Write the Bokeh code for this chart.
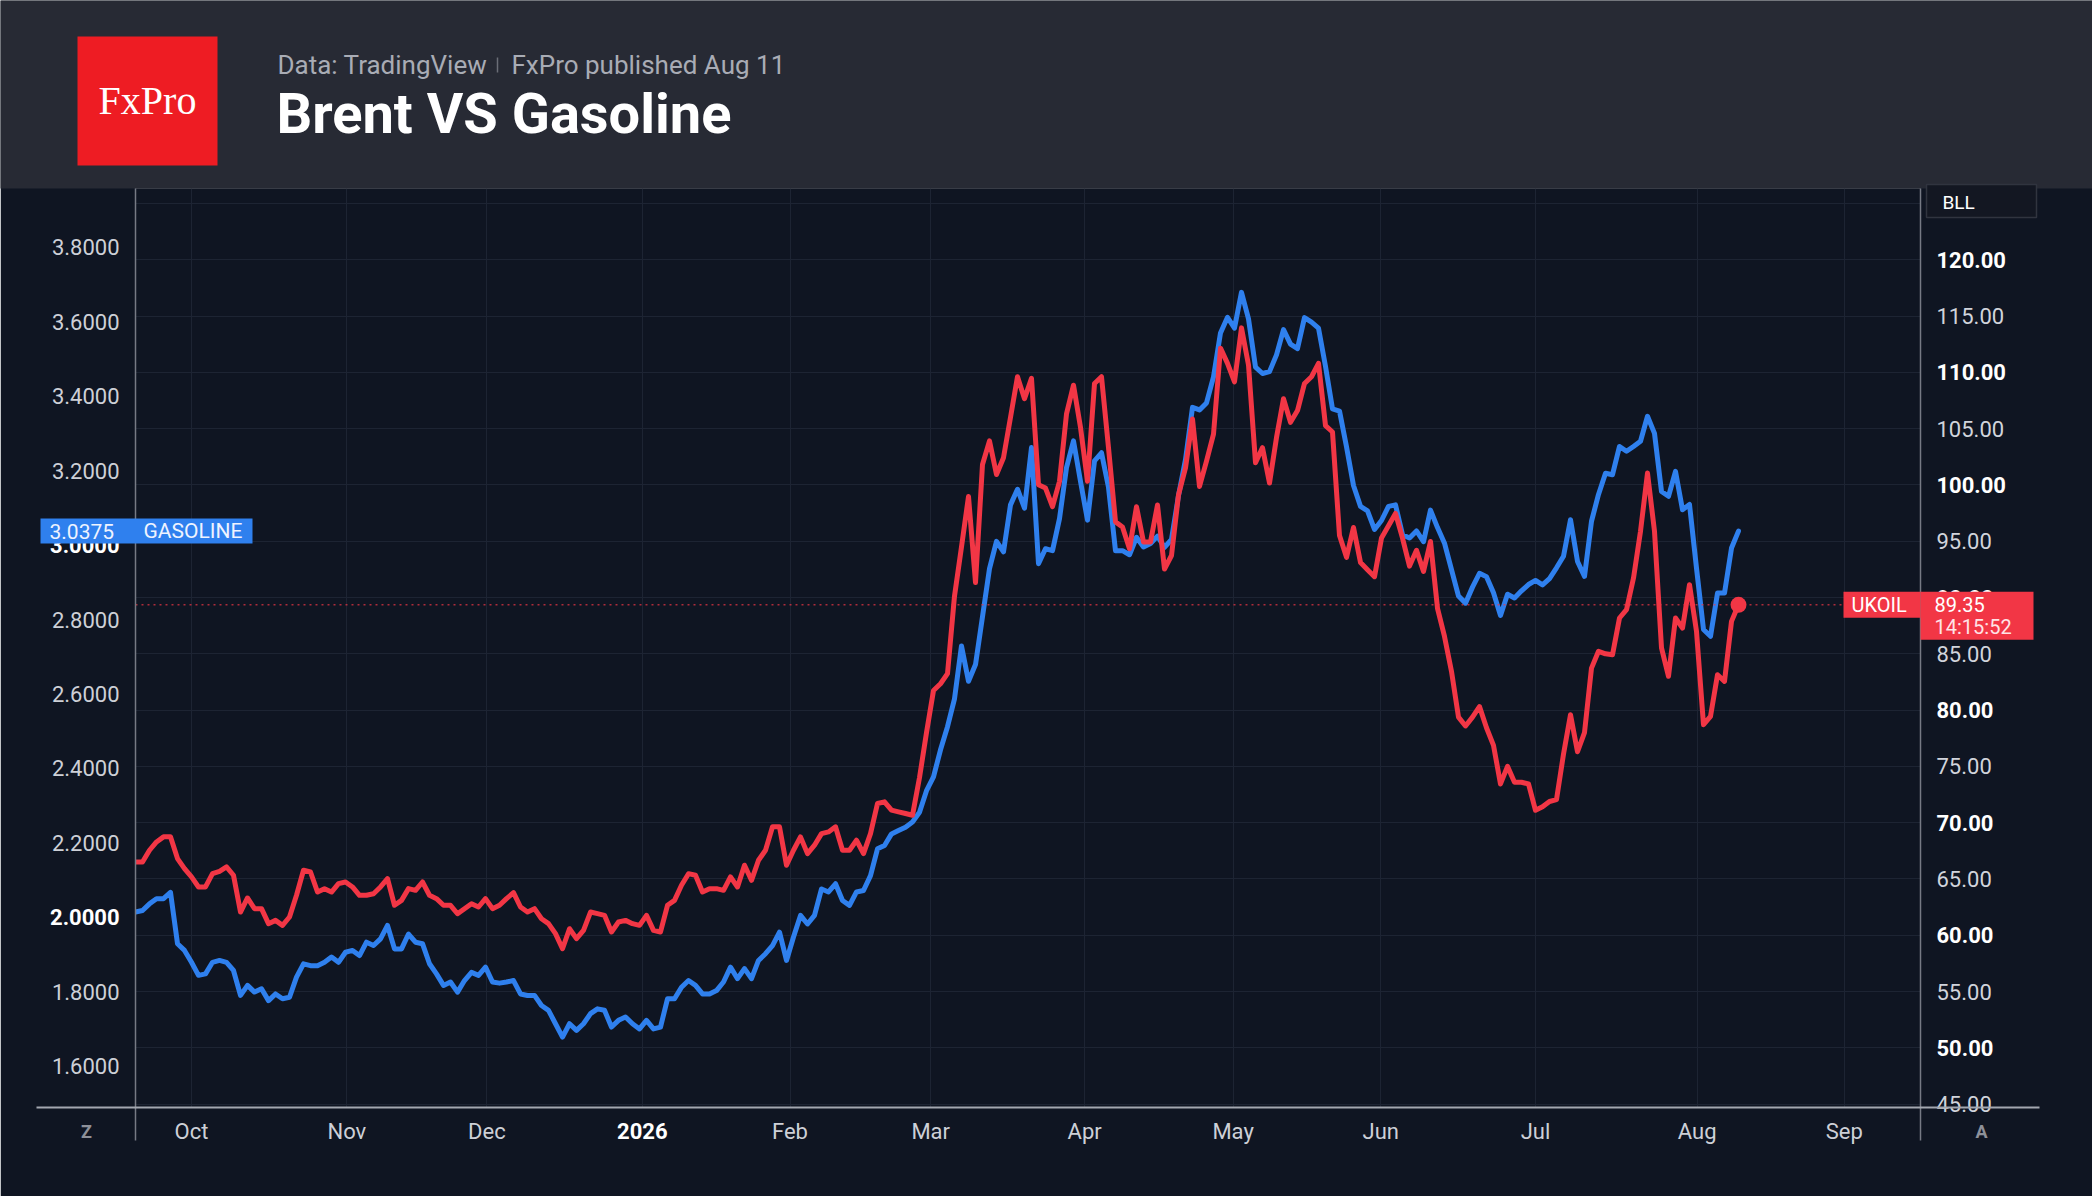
from bokeh.plotting import figure
from bokeh.models import (Range1d, LinearAxis, FixedTicker, Grid, Span,
                          ColumnDataSource, NumeralTickFormatter)
from bokeh.embed import file_html
from bokeh.resources import INLINE
from bokeh.core.properties import value

# ---------------- data ----------------
title_text = "Brent VS Gasoline"
source_note = "Data: TradingView"
publish_note = "FxPro published Aug 11"
brand = "FxPro"
oil_name = "UKOIL"
gas_name = "GASOLINE"
last_time = "14:15:52"
chip_text = "BLL"

month_labels = ["Oct", "Nov", "Dec", "2026", "Feb", "Mar", "Apr", "May", "Jun", "Jul", "Aug", "Sep"]
month_pos = [0, 22.2, 42.2, 64.4, 85.5, 105.6, 127.6, 148.8, 169.9, 192.0, 215.1, 236.1]  # bar position of labels

first_bar = -8   # first visible trading day (bar index, Oct 1 = 0)

ukoil = [
    66.51, 66.51, 67.55, 68.29, 68.74, 68.74, 66.81, 65.92, 65.18, 64.29,
    64.29, 65.47, 65.68, 66.07, 65.33, 62.06, 63.31, 62.36, 62.36, 61.03,
    61.32, 60.88, 61.62, 63.55, 65.77, 65.62, 63.84, 64.14, 63.84, 64.58,
    64.73, 64.29, 63.55, 63.55, 63.69, 64.29, 65.03, 62.66, 63.10, 64.14,
    63.99, 64.73, 63.55, 63.25, 62.66, 62.66, 61.91, 62.36, 62.80, 62.51,
    63.25, 62.36, 62.66, 63.25, 63.78, 62.51, 62.06, 62.36, 61.47, 61.03,
    60.14, 58.80, 60.58, 59.70,
    60.43, 62.06, 61.92, 61.77, 60.29, 61.18, 61.32, 61.03, 60.88, 61.77,
    60.43, 60.29, 62.66, 63.10, 64.44, 65.47, 65.33, 63.84, 64.14, 64.14,
    63.99, 65.18, 64.29, 66.22, 64.88, 66.66, 67.55, 69.63, 69.63, 66.22,
    67.55, 68.74, 67.25, 68.00, 69.03, 69.18, 69.63, 67.55, 67.55, 68.44,
    67.25, 69.03, 71.70, 71.85, 71.11, 70.96, 70.81, 70.66,
    74.00, 78.00, 81.74, 82.34, 83.24, 90.13, 94.50, 98.97, 91.33, 101.82,
    103.91, 100.92, 102.42, 106.00, 109.61, 107.66, 109.46, 100.02, 99.72, 98.07,
    100.32, 106.31, 108.86, 105.11, 100.32, 109.01, 109.61, 103.31, 96.72, 96.27,
    94.33, 98.07, 94.93, 94.93, 98.22, 92.53, 93.73, 99.12, 101.52, 105.86,
    99.87, 102.12, 104.51, 112.15, 110.80, 109.16, 113.95, 110.66, 101.97, 103.31,
    100.17, 104.21, 107.66, 105.56, 106.61, 109.01, 109.61, 110.80,
    105.27, 104.70,
    95.50, 93.57, 96.22, 93.10, 92.47, 91.85, 95.28, 96.37, 97.47, 95.28,
    92.79, 94.19, 92.32, 94.97, 89.04, 86.54, 83.43, 79.37, 78.59, 79.37,
    80.31, 78.43, 76.87, 73.44, 75.00, 73.59, 73.59, 73.44, 71.10, 71.41,
    71.88, 72.04, 76.09, 79.59, 76.30, 78.00, 83.73, 85.22, 85.00, 84.92,
    88.18, 88.92, 91.73, 95.88, 101.06, 95.88, 85.52, 83.00, 88.18, 87.29,
    91.14, 86.99, 78.70, 79.44, 83.14, 82.55, 87.88, 89.35,
]

gasoline = [
    2.014, 2.018, 2.036, 2.050, 2.050, 2.067, 1.929, 1.911, 1.879, 1.844,
    1.848, 1.879, 1.884, 1.879, 1.857, 1.790, 1.817, 1.799, 1.808, 1.776,
    1.794, 1.781, 1.785, 1.839, 1.875, 1.870, 1.870, 1.879, 1.893, 1.879,
    1.906, 1.911, 1.897, 1.933, 1.924, 1.942, 1.978, 1.915, 1.915, 1.955,
    1.933, 1.929, 1.875, 1.848, 1.817, 1.826, 1.799, 1.830, 1.852, 1.844,
    1.866, 1.826, 1.823, 1.826, 1.830, 1.794, 1.790, 1.790, 1.763, 1.750,
    1.714, 1.678, 1.714, 1.696,
    1.714, 1.741, 1.754, 1.750, 1.705, 1.723, 1.732, 1.714, 1.700, 1.723,
    1.700, 1.705, 1.781, 1.781, 1.812, 1.830, 1.817, 1.794, 1.794, 1.803,
    1.826, 1.866, 1.835, 1.862, 1.835, 1.884, 1.902, 1.924, 1.960, 1.884,
    1.947, 2.005, 1.982, 2.005, 2.076, 2.068, 2.090, 2.045, 2.032, 2.068,
    2.072, 2.112, 2.184, 2.193, 2.224, 2.233, 2.242, 2.256,
    2.282, 2.340,
    2.377, 2.450, 2.512, 2.587, 2.729, 2.634, 2.679, 2.808, 2.937, 3.010,
    2.982, 3.108, 3.150, 3.099, 3.262, 2.950, 2.990, 2.985, 3.071, 3.208,
    3.280, 3.171, 3.067, 3.226, 3.248, 3.155, 2.985, 2.985, 2.974, 3.021,
    2.995, 3.004, 3.024, 2.994, 3.015, 3.133, 3.230, 3.370, 3.363, 3.382,
    3.452, 3.570, 3.612, 3.583, 3.679, 3.608, 3.478, 3.461, 3.466, 3.511,
    3.579, 3.540, 3.528, 3.611, 3.599, 3.583, 3.480, 3.366, 3.360, 3.264,
    3.160, 3.104, 3.092, 3.042, 3.066, 3.104, 3.108, 3.028, 3.019, 3.038,
    3.009, 3.094, 3.047, 3.005, 2.934, 2.863, 2.844, 2.887, 2.924, 2.915,
    2.872, 2.811, 2.868, 2.858, 2.877, 2.894, 2.905, 2.893, 2.910, 2.939,
    2.970, 3.068, 2.956, 2.916, 3.064, 3.136, 3.193, 3.189, 3.265, 3.252,
    3.265, 3.279, 3.346, 3.300, 3.144, 3.131, 3.198, 3.095, 3.109, 2.938,
    2.773, 2.755, 2.871, 2.871, 2.992, 3.0375,
]

gas_ticks = [1.6, 1.8, 2.0, 2.2, 2.4, 2.6, 2.8, 3.0, 3.2, 3.4, 3.6, 3.8]
gas_bold = [2.0, 3.0]
oil_ticks = [45, 50, 55, 60, 65, 70, 75, 80, 85, 90, 95, 100, 105, 110, 115, 120]
oil_bold = [50, 60, 70, 80, 90, 100, 110, 120]
oil_grid = [45, 50, 55, 60, 65, 70, 75, 80, 85, 90, 95, 100, 105, 110, 115, 120, 125]

x_view = (-8, 247)
gas_view = (1.4889, 3.958)
oil_view = (44.70, 126.33)

bars = list(range(first_bar, first_bar + len(ukoil)))

# ---------------- style / layout ----------------
BG = "#0f1522"
HEAD_BG = "#272a34"
RED = "#f23645"
BLUE = "#2f80ee"
GRID = "#1d2433"
TXT = "#cdd0d7"
FONT = "Roboto"
W, H = 2092, 1196
FL, FR, FT, FB = 135, 1920, 188, 1107      # frame edges (page pixels)
FH = FB - FT

p = figure(width=W, height=H, x_range=Range1d(*x_view), y_range=Range1d(*gas_view),
           output_backend="svg", toolbar_location=None, title=None,
           min_border_left=FL, min_border_right=W - FR, min_border_top=FT, min_border_bottom=H - FB,
           background_fill_color=BG, border_fill_color=BG, outline_line_color=None)
p.extra_y_ranges = {"oil": Range1d(*oil_view), "py": Range1d(FB, FT)}
p.extra_x_ranges = {"px": Range1d(FL, FR)}

# x axis (months)
xa = p.xaxis[0]
xa.ticker = FixedTicker(ticks=month_pos)
xa.major_label_overrides = {b: ("" if lab.isdigit() else lab) for b, lab in zip(month_pos, month_labels)}
xa.axis_line_color = None
xa.major_tick_line_color = None
xa.minor_tick_line_color = None
xa.major_tick_out = 0
xa.major_label_standoff = 11
xa.major_label_text_color = TXT
xa.major_label_text_font = FONT
xa.major_label_text_font_size = "22px"

# left axis (gasoline)
ya = p.yaxis[0]
ya.ticker = FixedTicker(ticks=gas_ticks)
ya.formatter = NumeralTickFormatter(format="0.0000")
ya.major_label_overrides = {v: "" for v in gas_bold}
ya.axis_line_color = None
ya.major_tick_line_color = None
ya.minor_tick_line_color = None
ya.major_tick_out = 0
ya.major_label_standoff = 16
ya.major_label_text_color = TXT
ya.major_label_text_font = FONT
ya.major_label_text_font_size = "22px"

# right axis (brent)
ra = LinearAxis(y_range_name="oil", ticker=FixedTicker(ticks=oil_ticks),
                formatter=NumeralTickFormatter(format="0.00"))
ra.major_label_overrides = {v: "" for v in oil_bold}
ra.axis_line_color = None
ra.major_tick_line_color = None
ra.minor_tick_line_color = None
ra.major_tick_out = 0
ra.major_label_standoff = 16
ra.major_label_text_color = "#d1d4dc"
ra.major_label_text_font = FONT
ra.major_label_text_font_size = "22px"
p.add_layout(ra, "right")

# grids
p.xgrid.ticker = FixedTicker(ticks=month_pos)
p.xgrid.grid_line_color = GRID
p.ygrid.grid_line_color = None
p.add_layout(Grid(dimension=1, ticker=FixedTicker(ticks=oil_grid), y_range_name="oil",
                  grid_line_color=GRID, grid_line_width=1))

# series
src = ColumnDataSource(dict(bar=bars, ukoil=ukoil, gasoline=gasoline))
p.line("bar", "gasoline", source=src, line_color=BLUE, line_width=5, line_join="round", line_cap="round")
p.line("bar", "ukoil", source=src, y_range_name="oil", line_color=RED, line_width=5,
       line_join="round", line_cap="round")
p.add_layout(Span(location=ukoil[-1], dimension="width", y_range_name="oil", line_color=RED,
                  line_dash="2 4", line_width=1.5, line_alpha=0.7))
p.scatter(x=[bars[-1]], y=[ukoil[-1]], y_range_name="oil", size=16, fill_color=RED, line_color=None)

# ---------------- decorations outside the frame (overlay level) ----------------
OV = dict(level="overlay")

def txt(x, y, s, size, color, align="left", baseline="middle", bold=False, font=FONT,
        xr="px", yr="py", yoff=0):
    p.text(x=[x], y=[y], text=[s], x_range_name=xr, y_range_name=yr, text_font=value(font),
           text_font_size=size, text_color=color, text_align=align, text_baseline=baseline,
           text_font_style="bold" if bold else "normal", y_offset=yoff, **OV)

# header band
p.quad(left=[0], right=[W], top=[0], bottom=[FT], x_range_name="px", y_range_name="py",
       fill_color=HEAD_BG, line_color=None, **OV)
p.quad(left=[77], right=[217], top=[36], bottom=[165], x_range_name="px", y_range_name="py",
       fill_color="#ee1c23", line_color=None, **OV)
txt(147, 100, brand, "40px", "white", align="center", font="Liberation Serif")
txt(277, 64, source_note, "26px", "#a9acb5")
p.segment(x0=[497], y0=[57], x1=[497], y1=[72], x_range_name="px", y_range_name="py",
          line_color="#6b6e77", line_width=1.5, **OV)
txt(511, 64, publish_note, "26px", "#a9acb5")
txt(276, 113, title_text, "56px", "white", bold=True)

# axis rules
p.segment(x0=[FL, FR, 36], y0=[FT, FT, FB], x1=[FL, FR, 2039], y1=[1140, 1140, FB],
          x_range_name="px", y_range_name="py",
          line_color=["#767a84", "#767a84", "#a3a7b0"], line_width=[1.5, 1.5, 2], **OV)

# bold tick labels
for v in gas_bold:
    txt(FL - 16, v, f"{v:.4f}", "22px", "white", align="right", bold=True, yr="default")
for v in oil_bold:
    txt(FR + 16, v, f"{v:.2f}", "22px", "white", bold=True, yr="oil")
for b, lab in zip(month_pos, month_labels):
    if lab.isdigit():
        txt(b, 1130, lab, "22px", "white", align="center", bold=True, xr="default")

# GASOLINE tag
p.rect(x=[146], y=[gasoline[-1]], width=212, height=25, width_units="screen", height_units="screen",
       x_range_name="px", fill_color=BLUE, line_color=None, **OV)
txt(49, gasoline[-1], f"{gasoline[-1]:.4f}", "21px", "#eef3ff", yr="default")
txt(143, gasoline[-1], gas_name, "21px", "#eef3ff", yr="default")

# UKOIL tags
p.rect(x=[1881.5], y=[ukoil[-1]], width=77, height=26, width_units="screen", height_units="screen",
       x_range_name="px", y_range_name="oil", fill_color=RED, line_color=None, **OV)
txt(1851, ukoil[-1], oil_name, "20px", "white", yr="oil")
oil_per_px = (oil_view[1] - oil_view[0]) / FH
p.quad(left=[FR], right=[2033], top=[ukoil[-1] + 13 * oil_per_px], bottom=[ukoil[-1] - 35 * oil_per_px],
       x_range_name="px", y_range_name="oil", fill_color=RED, line_color=None, **OV)
txt(1934, ukoil[-1], f"{ukoil[-1]:.2f}", "20px", "white", yr="oil")
txt(1934, ukoil[-1], last_time, "20px", "#ffe3e6", yr="oil", yoff=22)

# chips
p.quad(left=[1926], right=[2036], top=[FT - 4], bottom=[217], x_range_name="px", y_range_name="py",
       fill_color="#131722", line_color="#30343f", line_width=1.5, **OV)
txt(1942, 202, chip_text, "19px", "white")
for cx, t in [(86, "Z"), (1981, "A")]:
    p.scatter(x=[cx], y=[1130], x_range_name="px", y_range_name="py", size=32,
              fill_color="#262a33", line_color=None, **OV)
    txt(cx, 1131, t, "18px", "#8d9099", align="center", bold=True)

open("out.html", "w").write(file_html(p, INLINE))
